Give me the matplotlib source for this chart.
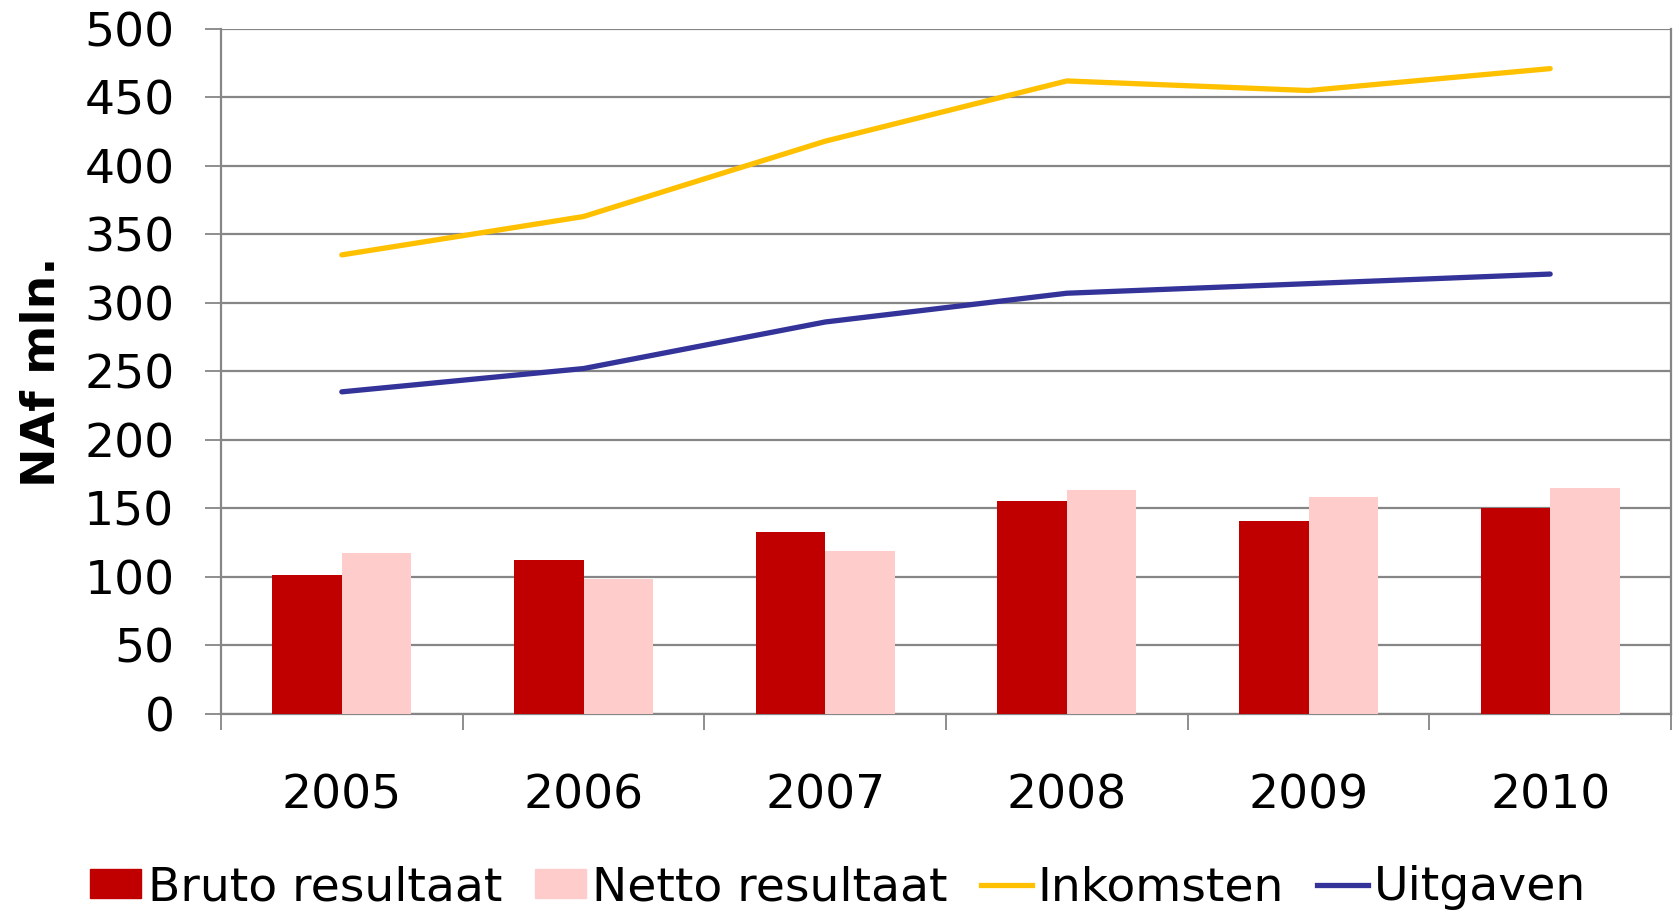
import matplotlib
matplotlib.use("Agg")
import matplotlib.pyplot as plt
from matplotlib.patches import Patch
from matplotlib.lines import Line2D
import numpy as np

years = ["2005", "2006", "2007", "2008", "2009", "2010"]
bruto = [101, 112, 133, 155, 141, 150]
netto = [117, 98, 119, 163, 158, 165]
inkomsten = [335, 363, 418, 462, 455, 471]
uitgaven = [235, 252, 286, 307, 314, 321]
yticks = [0, 50, 100, 150, 200, 250, 300, 350, 400, 450, 500]

RED = "#C00000"
PINK = "#FFCCCC"
YELLOW = "#FFC000"
BLUE = "#333399"
GRID = "#868686"

plt.rcParams['font.family'] = ['DejaVu Sans']
W, H = 1677, 910
FS = 34
fig = plt.figure(figsize=(W/100, H/100), dpi=100)
ax = fig.add_axes([221/W, 1-713.7/H, (1671-221)/W, (713.7-28.9)/H])

x = np.arange(len(years))
bw = 0.288
ax.bar(x - bw/2, bruto, width=bw, color=RED, zorder=3)
ax.bar(x + bw/2, netto, width=bw, color=PINK, zorder=3)
ax.plot(x, inkomsten, color=YELLOW, lw=3.8, zorder=4, solid_capstyle='round')
ax.plot(x, uitgaven, color=BLUE, lw=3.8, zorder=4, solid_capstyle='round')

ax.set_xlim(-0.5, len(years) - 0.5)
ax.set_ylim(0, 500)
ax.set_yticks(yticks)
ax.set_yticklabels([str(v) for v in yticks])
ax.grid(axis='y', color=GRID, lw=1.6, zorder=1)
ax.set_axisbelow(True)

ax.set_xticks(x)
ax.set_xticklabels(years)
ax.set_xticks(np.arange(-0.5, len(years)), minor=True)
ax.tick_params(axis='x', which='major', length=0, pad=43, labelsize=FS)
ax.tick_params(axis='x', which='minor', length=11.5, width=1.3, color=GRID)
ax.tick_params(axis='y', which='major', length=11.5, width=1.3, color=GRID, pad=22, labelsize=FS)

for s in ['left', 'right', 'bottom', 'top']:
    ax.spines[s].set_color(GRID)
    ax.spines[s].set_linewidth(1.6)
ax.spines['top'].set_visible(False)

fig.text(43/W, 1-372/H, "NAf mln.", rotation=90, ha='center', va='center',
         fontsize=FS, fontweight='bold')

handles = [Patch(color=RED), Patch(color=PINK),
           Line2D([], [], color=YELLOW, lw=3.8), Line2D([], [], color=BLUE, lw=3.8)]
labels = ["Bruto resultaat", "Netto resultaat", "Inkomsten", "Uitgaven"]
fig.legend(handles, labels, loc='center', bbox_to_anchor=(0.5, 1-888/H), ncol=4,
           frameon=False, fontsize=34, handlelength=1.08, handleheight=0.57,
           handletextpad=0.13, columnspacing=0.7, borderpad=0, borderaxespad=0)

fig.savefig("out.png", dpi=100)
